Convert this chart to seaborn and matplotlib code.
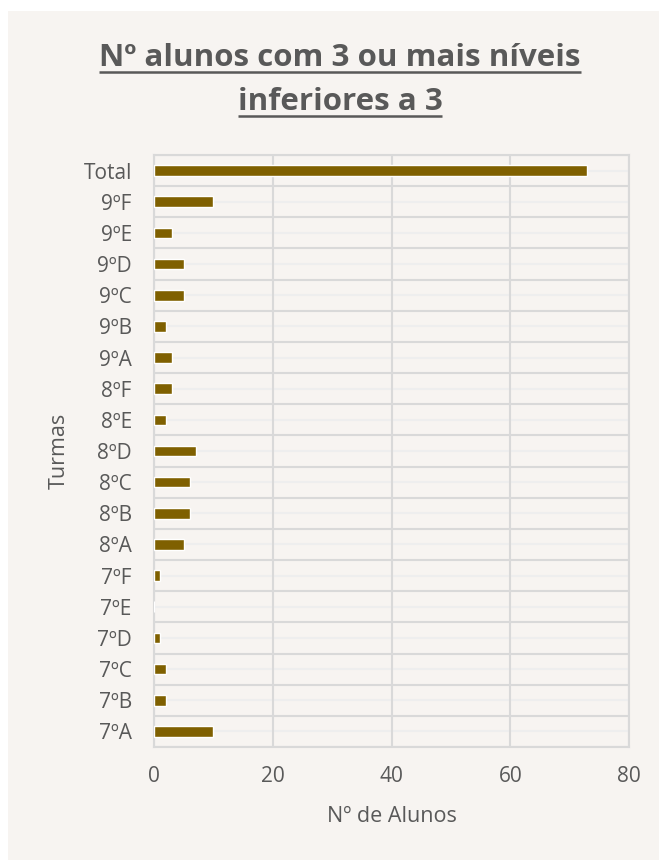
import matplotlib
matplotlib.use("Agg")
import matplotlib.pyplot as plt
from matplotlib.patches import Rectangle
from matplotlib.lines import Line2D
import seaborn as sns
import pandas as pd
import numpy as np

turmas = ["Total", "9ºF", "9ºE", "9ºD", "9ºC", "9ºB", "9ºA", "8ºF", "8ºE",
          "8ºD", "8ºC", "8ºB", "8ºA", "7ºF", "7ºE", "7ºD", "7ºC", "7ºB", "7ºA"]
alunos = [73, 10, 3, 5, 5, 2, 3, 3, 2, 7, 6, 6, 5, 1, 0, 1, 2, 2, 10]
x_ticks = [0, 20, 40, 60, 80]

title_lines = ["Nº alunos com 3 ou mais níveis", "inferiores a 3"]
x_label = "Nº de Alunos"
y_label = "Turmas"

df = pd.DataFrame({"Turma": turmas, "Alunos": alunos})

sns.set_theme(style="white")
plt.rcParams["font.family"] = ["Open Sans", "DejaVu Sans"]

BG = "#F7F4F1"
TXT = "#595959"
GRID = "#D9D9D9"
BAR = "#7F6000"

W, H = 659, 860
fig = plt.figure(figsize=(W / 100, H / 100), dpi=100, facecolor="white")
fig.patches.append(Rectangle((8 / W, 0), 1 - 8 / W, 1 - 11 / H, transform=fig.transFigure,
                             facecolor=BG, edgecolor="none", zorder=-10))

ax = fig.add_axes([154 / W, 1 - 747 / H, (629 - 154) / W, (747 - 155) / H])
ax.set_facecolor(BG)

sns.barplot(data=df, y="Turma", x="Alunos", order=turmas, orient="h",
            color=BAR, saturation=1, width=0.34, ax=ax, zorder=3)

n = len(turmas)
ax.set_xlim(0, 80)
ax.set_ylim(n - 0.5, -0.5)
ax.set_xticks(x_ticks)
ax.set_xticklabels([str(t) for t in x_ticks])
ax.set_yticks(range(n))
ax.set_yticklabels(turmas)
ax.set_yticks(np.arange(-0.5, n, 1.0), minor=True)

ax.grid(axis="x", which="major", color=GRID, linewidth=1.5, zorder=1)
ax.grid(axis="y", which="minor", color=GRID, linewidth=1.5, zorder=1)
for i in range(n):
    ax.axhline(i, color="#EEEEEE", linewidth=1.5, zorder=0.5)
ax.set_axisbelow(True)

for s in ax.spines.values():
    s.set_visible(True)
    s.set_color(GRID)
    s.set_linewidth(1.5)

ax.tick_params(axis="both", which="both", length=0, colors=TXT, labelsize=15)
ax.tick_params(axis="x", pad=14)
ax.tick_params(axis="y", pad=16)

ax.set_xlabel(x_label, fontsize=15.5, color=TXT, labelpad=13)
ax.set_ylabel(y_label, fontsize=15.5, color=TXT, labelpad=10)

# title with underline, fitted to reference width
baselines = [66, 110]
target_w = 480
t0 = fig.text(0, 0, title_lines[0], fontsize=20, fontweight="bold")
fig.canvas.draw()
renderer = fig.canvas.get_renderer()
w0 = t0.get_window_extent(renderer=renderer).width
t0.remove()
fs = 20 * target_w / w0

texts = []
for line, yb in zip(title_lines, baselines):
    t = fig.text(340 / W, 1 - yb / H, line, ha="center", va="baseline",
                 fontsize=fs, fontweight="bold", color=TXT)
    texts.append(t)

fig.canvas.draw()
for t, yb in zip(texts, baselines):
    bb = t.get_window_extent(renderer=renderer)
    x0, x1 = bb.x0 / W, bb.x1 / W
    yl = 1 - (yb + 6) / H
    fig.add_artist(Line2D([x0, x1], [yl, yl], transform=fig.transFigure,
                          color=TXT, linewidth=1.8, solid_capstyle="butt"))

fig.savefig("out.png", dpi=100, facecolor="white")
